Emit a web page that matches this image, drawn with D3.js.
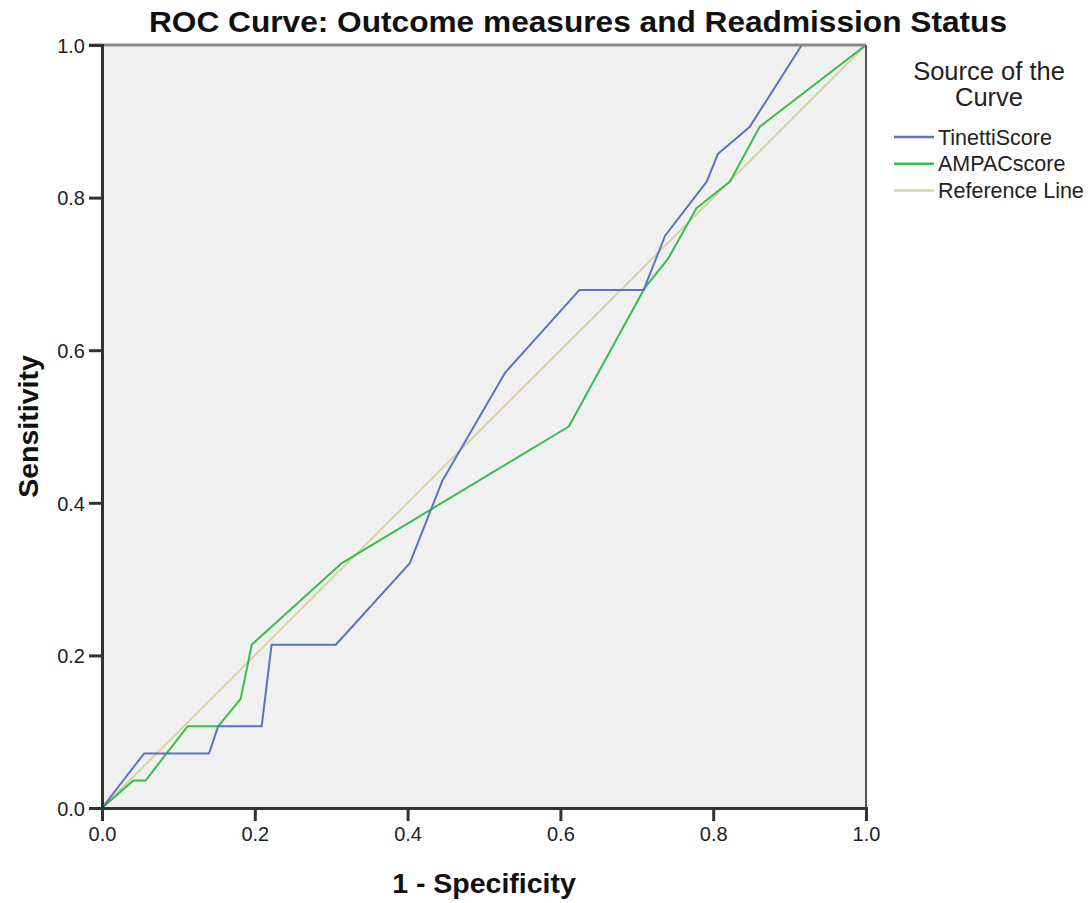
<!DOCTYPE html>
<html>
<head>
<meta charset="utf-8">
<script src="https://cdn.jsdelivr.net/npm/d3@7"></script>
<style>
  body { margin: 0; background: #fff; }
  svg { display: block; font-family: "Liberation Sans", Arial, sans-serif; }
</style>
</head>
<body>
<svg width="1091" height="903"></svg>
<script>
// ROC points (1 - specificity, sensitivity)
var tinettiX = [0, 0.055, 0.140, 0.152, 0.209, 0.222, 0.306, 0.403, 0.4455, 0.528, 0.625, 0.709, 0.737, 0.7915, 0.806, 0.848, 0.916, 1];
var tinettiY = [0, 0.0714, 0.0714, 0.107, 0.107, 0.214, 0.214, 0.321, 0.429, 0.571, 0.679, 0.679, 0.75, 0.821, 0.857, 0.893, 1, 1];
var ampacX = [0, 0.041, 0.057, 0.112, 0.152, 0.1815, 0.196, 0.314, 0.611, 0.710, 0.741, 0.778, 0.822, 0.861, 1];
var ampacY = [0, 0.036, 0.036, 0.107, 0.107, 0.143, 0.214, 0.321, 0.5, 0.681, 0.72, 0.786, 0.821, 0.893, 1];
var refX = [0, 1];
var refY = [0, 1];
var ticks = [0, 0.2, 0.4, 0.6, 0.8, 1.0];
var seriesNames = ["TinettiScore", "AMPACscore", "Reference Line"];
var seriesColors = ["#5b72c0", "#36bd4a", "#d6d2a6"];

var svg = d3.select("svg"),
    margin = {top: 45, left: 102},
    width = 764,
    height = 763,
    g = svg.append("g").attr("transform", "translate(" + margin.left + "," + margin.top + ")");

var x = d3.scaleLinear().domain([0, 1]).range([0, width]);
var y = d3.scaleLinear().domain([0, 1]).range([height, 0]);

// plot background
g.append("rect")
    .attr("width", width)
    .attr("height", height)
    .attr("fill", "#f0f0f0");

var line = d3.line()
    .x(function(d) { return x(d[0]); })
    .y(function(d) { return y(d[1]); });

function pts(xs, ys) { return xs.map(function(v, i) { return [v, ys[i]]; }); }

var series = [pts(tinettiX, tinettiY), pts(ampacX, ampacY), pts(refX, refY)];

// reference line first, then curves on top
[2, 1, 0].forEach(function(i) {
  g.append("path")
      .datum(series[i])
      .attr("fill", "none")
      .attr("stroke", seriesColors[i])
      .attr("stroke-width", 2)
      .attr("stroke-linejoin", "round")
      .attr("d", line);
});

// frame: top and right
g.append("line").attr("x1", -13).attr("x2", width).attr("y1", 0).attr("y2", 0)
    .attr("stroke", "#8a8a8a").attr("stroke-width", 3);
g.append("line").attr("x1", width).attr("x2", width).attr("y1", 0).attr("y2", height)
    .attr("stroke", "#555").attr("stroke-width", 2);

// axes
var xAxis = g.append("g")
    .attr("transform", "translate(0," + height + ")")
    .call(d3.axisBottom(x).tickValues(ticks).tickFormat(d3.format(".1f")).tickSize(13).tickPadding(6));
var yAxis = g.append("g")
    .call(d3.axisLeft(y).tickValues(ticks).tickFormat(d3.format(".1f")).tickSize(13).tickPadding(4));

[xAxis, yAxis].forEach(function(a) {
  a.select(".domain").attr("stroke", "#333").attr("stroke-width", 3);
  a.selectAll(".tick line").attr("stroke", "#333").attr("stroke-width", 3);
  a.selectAll(".tick text")
      .attr("fill", "#222")
      .style("font-size", "20px")
      .style("font-family", "'Liberation Sans', Arial, sans-serif");
});
yAxis.selectAll(".tick text").attr("dy", "0.36em");

// titles
svg.append("text")
    .attr("x", 578)
    .attr("y", 32)
    .attr("text-anchor", "middle")
    .attr("font-weight", "bold")
    .attr("font-size", 29)
    .attr("textLength", 858)
    .attr("lengthAdjust", "spacingAndGlyphs")
    .attr("fill", "#111")
    .text("ROC Curve: Outcome measures and Readmission Status");

svg.append("text")
    .attr("x", margin.left + width / 2)
    .attr("y", 893)
    .attr("text-anchor", "middle")
    .attr("font-weight", "bold")
    .attr("font-size", 28.5)
    .attr("fill", "#111")
    .text("1 - Specificity");

svg.append("text")
    .attr("transform", "translate(38," + (margin.top + height / 2) + ") rotate(-90)")
    .attr("text-anchor", "middle")
    .attr("font-weight", "bold")
    .attr("font-size", 28.5)
    .attr("fill", "#111")
    .text("Sensitivity");

// legend
var legend = svg.append("g").attr("fill", "#222");
legend.append("text")
    .attr("x", 989).attr("y", 80)
    .attr("text-anchor", "middle")
    .attr("font-size", 25.5)
    .text("Source of the");
legend.append("text")
    .attr("x", 989).attr("y", 106)
    .attr("text-anchor", "middle")
    .attr("font-size", 25.5)
    .text("Curve");

var item = legend.selectAll("g.item")
    .data(seriesNames)
    .enter().append("g")
    .attr("class", "item")
    .attr("transform", function(d, i) { return "translate(894," + (137 + i * 26.7) + ")"; });

item.append("line")
    .attr("x1", 0).attr("x2", 40)
    .attr("stroke", function(d, i) { return seriesColors[i]; })
    .attr("stroke-width", 2.5);

item.append("text")
    .attr("x", 44)
    .attr("dy", "0.36em")
    .attr("font-size", 21.5)
    .text(function(d) { return d; });
</script>
</body>
</html>
